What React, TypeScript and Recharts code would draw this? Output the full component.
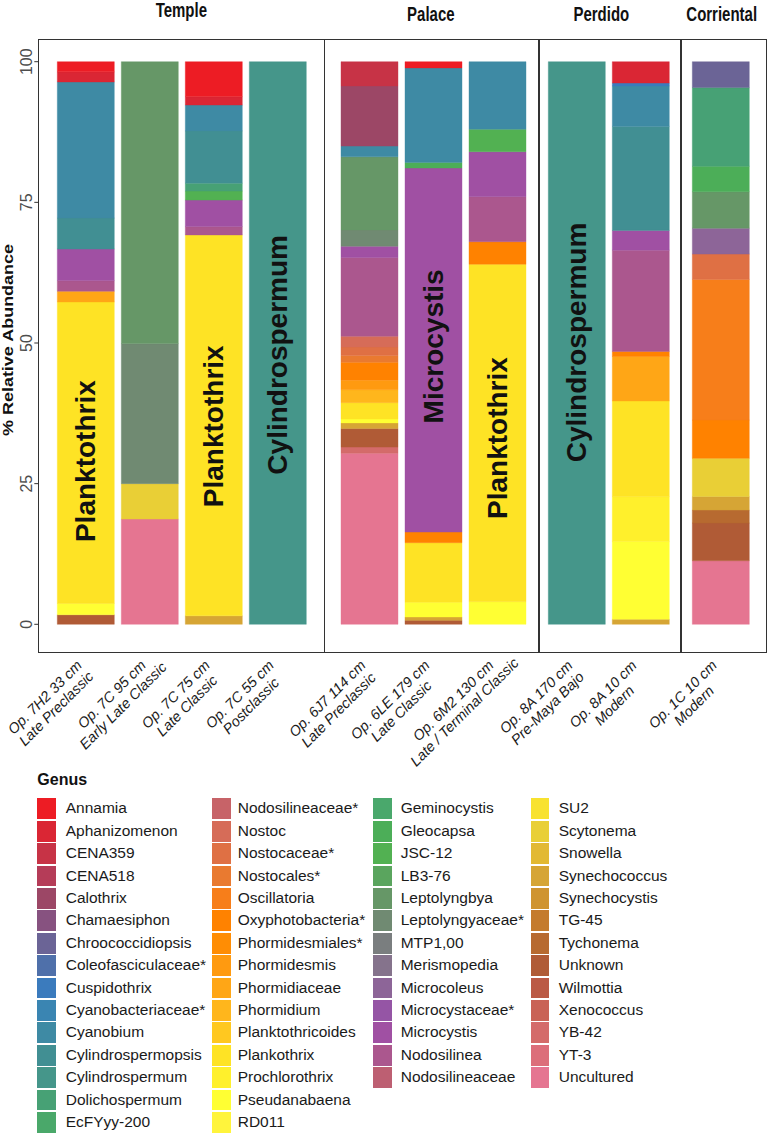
import React from 'react';
import { BarChart, Bar, XAxis, YAxis, ReferenceDot } from 'recharts';

// ---------- data ----------
const GENERA: string[] = [
  'Annamia', 'Aphanizomenon', 'CENA359', 'CENA518', 'Calothrix', 'Chamaesiphon', 'Chroococcidiopsis',
  'Coleofasciculaceae*', 'Cuspidothrix', 'Cyanobacteriaceae*', 'Cyanobium', 'Cylindrospermopsis',
  'Cylindrospermum', 'Dolichospermum', 'EcFYyy-200', 'Geminocystis', 'Gleocapsa', 'JSC-12', 'LB3-76',
  'Leptolyngbya', 'Leptolyngyaceae*', 'MTP1,00', 'Merismopedia', 'Microcoleus', 'Microcystaceae*',
  'Microcystis', 'Nodosilinea', 'Nodosilineaceae', 'Nodosilineaceae*', 'Nostoc', 'Nostocaceae*',
  'Nostocales*', 'Oscillatoria', 'Oxyphotobacteria*', 'Phormidesmiales*', 'Phormidesmis', 'Phormidiaceae',
  'Phormidium', 'Planktothricoides', 'Plankothrix', 'Prochlorothrix', 'Pseudanabaena', 'RD011', 'SU2',
  'Scytonema', 'Snowella', 'Synechococcus', 'Synechocystis', 'TG-45', 'Tychonema', 'Unknown', 'Wilmottia',
  'Xenococcus', 'YB-42', 'YT-3', 'Uncultured',
];

const GENUS_COLORS: string[] = [
  '#ed1c24', '#da2634', '#c73346', '#b53c58', '#9c4766', '#875280', '#6b6496',
  '#4f70aa', '#3b7bbd', '#3a85b2', '#3e8aa4', '#418f93',
  '#45968a', '#47a175', '#4aa86a', '#4aa86c', '#4cae58', '#52b152', '#5aa55e',
  '#669767', '#708a72', '#7a7e7f', '#85738c', '#8d6598', '#9555a5',
  '#a050a3', '#ab578e', '#bd5f72', '#c76368', '#d66c58', '#df7044',
  '#e97a30', '#f77e1a', '#ff8200', '#ff8d04', '#ff9a10', '#ffa616',
  '#ffb61c', '#ffc820', '#fee325', '#fff02c', '#ffff33', '#fff43c', '#f8e22f',
  '#e9cf36', '#e2b933', '#d6a535', '#cf9430', '#c47b2e', '#b76a30', '#b05b36', '#bb5a45',
  '#c96356', '#d46b6a', '#dc6e7a', '#e57591',
];

// legend columns as laid out in the figure
const LEGEND_COL_1 = GENERA.slice(0, 15);
const LEGEND_COL_2 = GENERA.slice(28, 43);
const LEGEND_COL_3 = GENERA.slice(15, 28);
const LEGEND_COL_4 = GENERA.slice(43, 56);

const SITES = ['Temple', 'Palace', 'Perdido', 'Corriental'];

const SAMPLE_LINE1 = ['Op. 7H2 33 cm', 'Op. 7C 95 cm', 'Op. 7C 75 cm', 'Op. 7C 55 cm', 'Op. 6J7 114 cm',
  'Op. 6LE 179 cm', 'Op. 6M2 130 cm', 'Op. 8A 170 cm', 'Op. 8A 10 cm', 'Op. 1C 10 cm'];
const SAMPLE_LINE2 = ['Late Preclassic', 'Early Late Classic', 'Late Classic', 'Postclassic', 'Late Preclassic',
  'Late Classic', 'Late / Terminal Classic', 'Pre-Maya Bajo', 'Modern', 'Modern'];
const SAMPLE_SITE = ['Temple', 'Temple', 'Temple', 'Temple', 'Palace', 'Palace', 'Palace', 'Perdido', 'Perdido', 'Corriental'];

type Pair = [string, number];
const op7H2_33: Pair[] = [['Annamia', 1.8], ['Aphanizomenon', 1.8], ['Cyanobium', 24.2], ['Cylindrospermopsis', 5.5],
  ['Microcystis', 5.6], ['Nodosilinea', 1.9], ['Phormidiaceae', 1.9], ['Plankothrix', 53.6], ['Pseudanabaena', 2.0], ['Unknown', 1.7]];
const op7C_95: Pair[] = [['Leptolyngbya', 50.1], ['Leptolyngyaceae*', 24.9], ['Scytonema', 6.3], ['Uncultured', 18.7]];
const op7C_75: Pair[] = [['Annamia', 6.2], ['Aphanizomenon', 1.5], ['Cyanobium', 4.6], ['Cylindrospermopsis', 9.3],
  ['Dolichospermum', 1.4], ['JSC-12', 1.6], ['Microcystis', 4.7], ['Nodosilinea', 1.5], ['Plankothrix', 67.7], ['Synechococcus', 1.5]];
const op7C_55: Pair[] = [['Cylindrospermum', 100]];
const op6J7_114: Pair[] = [['CENA359', 4.3], ['Calothrix', 10.7], ['Cyanobium', 1.9], ['Leptolyngbya', 13.0],
  ['Leptolyngyaceae*', 2.9], ['Microcystis', 2.0], ['Nodosilinea', 14.0], ['Nostoc', 1.9], ['Nostocaceae*', 1.5],
  ['Nostocales*', 1.2], ['Oxyphotobacteria*', 3.2], ['Phormidesmis', 1.7], ['Phormidium', 2.3], ['Plankothrix', 2.9],
  ['Pseudanabaena', 0.7], ['Synechococcus', 1.0], ['Unknown', 3.3], ['YB-42', 1.1], ['Uncultured', 30.4]];
const op6LE_179: Pair[] = [['Annamia', 1.1], ['Cyanobium', 16.8], ['Gleocapsa', 1.0], ['Microcystis', 64.7],
  ['Oxyphotobacteria*', 1.9], ['Plankothrix', 10.6], ['Pseudanabaena', 2.6], ['Synechococcus', 0.6], ['Unknown', 0.7]];
const op6M2_130: Pair[] = [['Cyanobium', 12.0], ['JSC-12', 4.0], ['Microcystis', 8.0], ['Nodosilinea', 8.0],
  ['Oxyphotobacteria*', 4.0], ['Plankothrix', 60.0], ['Pseudanabaena', 4.0]];
const op8A_170: Pair[] = [['Cylindrospermum', 100]];
const op8A_10: Pair[] = [['Aphanizomenon', 3.8], ['Cuspidothrix', 0.5], ['Cyanobium', 7.2], ['Cylindrospermopsis', 18.5],
  ['Microcystis', 3.5], ['Nodosilinea', 18.0], ['Oxyphotobacteria*', 0.9], ['Phormidiaceae', 7.9], ['Plankothrix', 17.0],
  ['Prochlorothrix', 8.0], ['Pseudanabaena', 13.8], ['Synechococcus', 0.9]];
const op1C_10: Pair[] = [['Chroococcidiopsis', 4.6], ['Dolichospermum', 14.0], ['Gleocapsa', 4.5], ['Leptolyngbya', 6.5],
  ['Microcoleus', 4.6], ['Nostocaceae*', 4.5], ['Oscillatoria', 25.0], ['Oxyphotobacteria*', 6.8], ['Scytonema', 6.8],
  ['Synechococcus', 2.4], ['Tychonema', 2.3], ['Unknown', 6.7], ['Uncultured', 11.3]];

const SAMPLE_VALUES: Pair[][] = [op7H2_33, op7C_95, op7C_75, op7C_55, op6J7_114, op6LE_179, op6M2_130, op8A_170, op8A_10, op1C_10];

// in-bar labels: sample, text, y position (% axis)
const BAR_LABEL_SAMPLE = ['Op. 7H2 33 cm', 'Op. 7C 75 cm', 'Op. 7C 55 cm', 'Op. 6LE 179 cm', 'Op. 6M2 130 cm', 'Op. 8A 170 cm'];
const BAR_LABEL_TEXT = ['Planktothrix', 'Planktothrix', 'Cylindrospermum', 'Microcystis', 'Planktothrix', 'Cylindrospermum'];
const BAR_LABEL_Y = [29.0, 35.2, 47.9, 49.4, 33.1, 50.1];

const Y_TICKS = [0, 25, 50, 75, 100];

// ---------- build rows ----------
const ROWS = SAMPLE_LINE1.map((s, i) => {
  const row: Record<string, any> = { sample: s };
  SAMPLE_VALUES[i].forEach(([g, v]) => { row[g] = v; });
  return row;
});

// ---------- layout ----------
const FONT = '"Liberation Sans", Arial, Helvetica, sans-serif';
const W = 769;
const CHART_H = 800;
const PLOT_TOP = 61.7;
const PLOT_BOTTOM = 624.3;
const XAXIS_H = 160;
const BORDER_TOP = 39.3;
const BORDER_BOTTOM = 652.7;
const XLAB_SIZE = 14.5;

const PANEL_BOUNDS = [
  { left: 38.3, right: 324.3, padL: 15.5, padR: 14.5, stripX: 181.3, stripY: 16.7 },
  { left: 324.3, right: 539, padL: 13.2, padR: 9.5, stripX: 430.8, stripY: 20.7 },
  { left: 539, right: 681, padL: 5.8, padR: 8.2, stripX: 601.3, stripY: 20.7 },
  { left: 681, right: 767, padL: 7.8, padR: 14.2, stripX: 721.7, stripY: 20.7 },
];

let measureCtx: CanvasRenderingContext2D | null = null;
function textWidth(s: string, font: string): number {
  try {
    if (!measureCtx) measureCtx = document.createElement('canvas').getContext('2d');
    if (measureCtx) { measureCtx.font = font; return measureCtx.measureText(s).width; }
  } catch (e) { /* ignore */ }
  return s.length * 0.5 * XLAB_SIZE;
}

const XTick = (props: any) => {
  const { x, y, payload } = props;
  const i = SAMPLE_LINE1.indexOf(payload.value);
  const w1 = textWidth(SAMPLE_LINE1[i], `italic ${XLAB_SIZE}px "Liberation Sans"`);
  const cx = -w1 / 2;
  return (
    <g transform={`translate(${x - 3},${y + 42}) rotate(-45)`}>
      <text textAnchor="middle" fontStyle="italic" fontSize={XLAB_SIZE} fill="#1a1a1a" fontFamily={FONT}>
        <tspan x={cx} dy={0}>{SAMPLE_LINE1[i]}</tspan>
        <tspan x={cx} dy={16}>{SAMPLE_LINE2[i]}</tspan>
      </text>
    </g>
  );
};

const YTick = (props: any) => {
  const { x, y, payload } = props;
  return (
    <text x={x} y={y} transform={`rotate(-90 ${x} ${y})`} textAnchor="middle" fill="#4d4d4d" fontSize={16} fontFamily={FONT}>
      {payload.value}
    </text>
  );
};

const BarText = (text: string) => (p: any) => (
  <text x={p.cx} y={p.cy} transform={`rotate(-90 ${p.cx} ${p.cy})`} textAnchor="middle" dominantBaseline="central"
    fontSize={28} fontWeight="bold" fill="#111" fontFamily={FONT}>{text}</text>
);

function Panel({ idx }: { idx: number }) {
  const site = SITES[idx];
  const b = PANEL_BOUNDS[idx];
  const showY = idx === 0;
  const data = ROWS.filter((_, i) => SAMPLE_SITE[i] === site);
  const stackOrder = GENERA.map((g, i) => ({ g, c: GENUS_COLORS[i] })).reverse();
  return (
    <div style={{ position: 'absolute', left: 0, top: 0 }}>
      <BarChart width={W} height={CHART_H} data={data} barCategoryGap={3.5}
        margin={{ top: PLOT_TOP, right: W - b.right, left: showY ? 0 : b.left, bottom: CHART_H - PLOT_BOTTOM - XAXIS_H }}>
        <XAxis dataKey="sample" type="category" axisLine={false} tickLine={false} tickSize={0} tickMargin={0}
          interval={0} height={XAXIS_H} padding={{ left: b.padL, right: b.padR }} tick={<XTick />} />
        <YAxis type="number" domain={[0, 100]} ticks={Y_TICKS} hide={!showY} width={showY ? b.left : 0}
          axisLine={false} tickLine={{ stroke: '#333' }} tickSize={4} tickMargin={2} tick={<YTick />} />
        {stackOrder.map(({ g, c }) => (
          <Bar key={g} dataKey={g} stackId="s" fill={c} stroke={c} strokeWidth={0.4} isAnimationActive={false} />
        ))}
        {BAR_LABEL_SAMPLE.map((s, i) => (data.some((r) => r.sample === s) ? (
          <ReferenceDot key={'l' + i} x={s} y={BAR_LABEL_Y[i]} r={0} shape={BarText(BAR_LABEL_TEXT[i])} />
        ) : null))}
      </BarChart>
    </div>
  );
}

const LEGEND_COLS = [
  { items: LEGEND_COL_1, keyX: 37.3, textX: 65.7 },
  { items: LEGEND_COL_2, keyX: 212.3, textX: 237.7 },
  { items: LEGEND_COL_3, keyX: 373.3, textX: 400.7 },
  { items: LEGEND_COL_4, keyX: 530.7, textX: 558.7 },
];
const LEGEND_TOP = 798.3;
const ROW_H = 22.4;

export default function App() {
  return (
    <div style={{ position: 'absolute', left: 0, top: 0, width: W, height: 1144, background: '#fff', fontFamily: FONT, overflow: 'hidden' }}>
      {/* panel frame */}
      <div style={{ position: 'absolute', left: PANEL_BOUNDS[0].left, top: BORDER_TOP, width: PANEL_BOUNDS[3].right - PANEL_BOUNDS[0].left,
        height: BORDER_BOTTOM - BORDER_TOP, border: '1.2px solid #333', boxSizing: 'border-box' }} />
      {PANEL_BOUNDS.slice(1).map((b, i) => (
        <div key={i} style={{ position: 'absolute', left: b.left - 0.6, top: BORDER_TOP, width: 1.2, height: BORDER_BOTTOM - BORDER_TOP, background: '#333' }} />
      ))}
      {SITES.map((_, i) => <Panel key={i} idx={i} />)}
      {/* strip labels and y title */}
      <svg width={W} height={700} style={{ position: 'absolute', left: 0, top: 0, pointerEvents: 'none' }}>
        {SITES.map((s, i) => (
          <text key={s} transform={`translate(${PANEL_BOUNDS[i].stripX},${PANEL_BOUNDS[i].stripY}) scale(1,1.35)`}
            textAnchor="middle" fontWeight="bold" fontSize={15} fill="#111" fontFamily={FONT}>{s}</text>
        ))}
        <text transform={`translate(13,340) rotate(-90) scale(1.2,1)`} textAnchor="middle" fontWeight="bold" fontSize={15}
          fill="#111" fontFamily={FONT}>% Relative Abundance</text>
      </svg>
      {/* legend */}
      <div style={{ position: 'absolute', left: 37.3, top: 772, fontWeight: 'bold', fontSize: 16, color: '#111', lineHeight: '16px' }}>Genus</div>
      {LEGEND_COLS.map((col) => col.items.map((g, ri) => {
        const gi = GENERA.indexOf(g);
        const top = LEGEND_TOP + ri * ROW_H;
        return (
          <React.Fragment key={g}>
            <div style={{ position: 'absolute', left: col.keyX, top, width: 18.5, height: ROW_H - 1.5, background: GENUS_COLORS[gi] }} />
            <div style={{ position: 'absolute', left: col.textX, top, height: ROW_H - 1.5, lineHeight: `${ROW_H - 1.5}px`, fontSize: 15.5,
              color: '#1a1a1a', whiteSpace: 'nowrap' }}>{g}</div>
          </React.Fragment>
        );
      }))}
    </div>
  );
}
